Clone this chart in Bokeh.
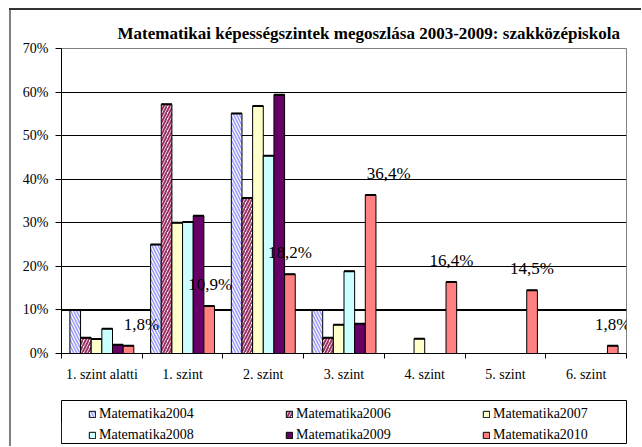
from bokeh.plotting import figure
from bokeh.models import Range1d, FixedTicker, LabelSet, Span, ColumnDataSource, Spacer
from bokeh.layouts import column, row
from bokeh.embed import file_html
from bokeh.resources import INLINE
from bokeh.core.properties import value

# ---------------- data ----------------
categories = ["1. szint alatti", "1. szint", "2. szint", "3. szint", "4. szint", "5. szint", "6. szint"]
series_names = ["Matematika2004", "Matematika2006", "Matematika2007",
                "Matematika2008", "Matematika2009", "Matematika2010"]
m2004 = [10.0, 25.0, 55.1, 10.0, 0.0, 0.0, 0.0]
m2006 = [3.6, 57.2, 35.7, 3.6, 0.0, 0.0, 0.0]
m2007 = [3.3, 30.0, 56.8, 6.6, 3.4, 0.0, 0.0]
m2008 = [5.7, 30.2, 45.4, 18.9, 0.0, 0.0, 0.0]
m2009 = [2.0, 31.6, 59.4, 6.8, 0.0, 0.0, 0.0]
m2010 = [1.8, 10.9, 18.2, 36.4, 16.4, 14.5, 1.8]
y_ticks = [0, 10, 20, 30, 40, 50, 60, 70]
y_tick_labels = ["0%", "10%", "20%", "30%", "40%", "50%", "60%", "70%"]
title_text = "Matematikai képességszintek megoszlása 2003-2009: szakközépiskola"

series_values = [m2004, m2006, m2007, m2008, m2009, m2010]

# ---------------- styles ----------------
FONT = "Liberation Serif"
styles = [
    dict(fill_color="white", hatch_pattern="\\", hatch_color="#9999FF", hatch_weight=1.5, hatch_scale=6),
    dict(fill_color="white", hatch_pattern="/", hatch_color="#993366", hatch_weight=2.0, hatch_scale=6),
    dict(fill_color="#FFFFCC"),
    dict(fill_color="#CCFFFF"),
    dict(fill_color="#660066"),
    dict(fill_color="#FF8080"),
]
label_dx = [13, 1, 0, 18, 0, 0, 0]   # manual nudges (px) of the 2010 data labels
bar_w = 0.132

p = figure(width=630, height=389, x_range=Range1d(0, len(categories)), y_range=Range1d(0, 70),
           output_backend="svg", toolbar_location=None,
           min_border_left=50, min_border_right=15, min_border_top=38, min_border_bottom=46)
p.background_fill_color = "white"
p.border_fill_color = "white"
p.outline_line_color = "#808080"
p.outline_line_width = 1

# title
p.title.text = title_text
p.title.align = "left"
p.title.offset = 56
p.title.standoff = 12
p.title.text_font = FONT
p.title.text_font_size = "17px"
p.title.text_font_style = "bold"
p.title.text_color = "black"

# grid
p.xgrid.visible = False
p.ygrid.ticker = FixedTicker(ticks=y_ticks[1:-1])
p.ygrid.grid_line_color = "black"
p.ygrid.grid_line_width = 1
ten = Span(location=y_ticks[1], dimension="width", line_color="black", line_width=2, level="underlay")
p.add_layout(ten)

# bars
n = len(series_values)
x2010 = []
for k, (vals, st) in enumerate(zip(series_values, styles)):
    xs = [i + 0.5 + (k - (n - 1) / 2) * bar_w for i in range(len(categories))]
    if k == n - 1:
        x2010 = xs
    keep = [i for i, v in enumerate(vals) if v > 0]
    bx = [xs[i] for i in keep]
    bt = [vals[i] for i in keep]
    src = ColumnDataSource(dict(x=bx, top=bt,
                                x0=[x - bar_w / 2 for x in bx], x1=[x + bar_w / 2 for x in bx]))
    p.vbar(x="x", top="top", bottom=0, width=bar_w, line_color="black", line_width=1, source=src, **st)
    p.segment(x0="x0", x1="x1", y0="top", y1="top", line_color="black", line_width=2, source=src)

# data labels of 2010
lbl_src = ColumnDataSource(dict(x=x2010, y=m2010,
                                text=[("%.1f" % v).replace(".", ",") + "%" for v in m2010],
                                dx=label_dx))
labels = LabelSet(x="x", y="y", text="text", source=lbl_src, x_offset="dx", y_offset=21.5,
                  text_align="center", text_baseline="middle",
                  text_font=value(FONT), text_font_size=value("17px"), text_color="black")
p.add_layout(labels)

# axes
p.yaxis.ticker = FixedTicker(ticks=y_ticks)
p.yaxis.major_label_overrides = {t: l for t, l in zip(y_ticks, y_tick_labels)}
p.yaxis.major_tick_out = 6
p.yaxis.major_tick_in = 0
p.yaxis.minor_tick_out = 0
p.yaxis.minor_tick_in = 0
p.yaxis.major_label_standoff = 7

p.xaxis.ticker = FixedTicker(ticks=[i + 0.5 for i in range(len(categories))],
                             minor_ticks=list(range(len(categories) + 1)))
p.xaxis.major_label_overrides = {i + 0.5: c for i, c in enumerate(categories)}
p.xaxis.major_tick_out = 0
p.xaxis.major_tick_in = 0
p.xaxis.minor_tick_out = 5
p.xaxis.minor_tick_in = 0
p.xaxis.major_label_standoff = 8

for ax in (p.xaxis, p.yaxis):
    ax.axis_line_color = "black"
    ax.major_tick_line_color = "black"
    ax.minor_tick_line_color = "black"
    ax.major_label_text_font = FONT
    ax.major_label_text_font_size = "14px"
    ax.major_label_text_color = "black"

# ---------------- legend figure ----------------
p2 = figure(width=630, height=45, x_range=Range1d(0, 1), y_range=Range1d(0, 1),
            output_backend="svg", toolbar_location=None,
            x_axis_location=None, y_axis_location=None,
            min_border_left=33, min_border_right=5, min_border_top=1, min_border_bottom=1)
p2.grid.visible = False
p2.outline_line_color = "black"
p2.outline_line_width = 1
p2.background_fill_color = "white"
p2.border_fill_color = "white"
for name, st in zip(series_names, styles):
    # placeholder glyphs kept outside the visible range; they only feed the legend
    p2.vbar(x=[-5], top=[0.5], width=0.1, line_color="black", line_width=1, legend_label=name, **st)
leg = p2.legend[0]
leg.location = (27, -2)
leg.orientation = "horizontal"
leg.ncols = 3
leg.glyph_width = 8
leg.glyph_height = 8
leg.label_standoff = 3
leg.label_width = 186
leg.label_height = 21
leg.spacing = 0
leg.padding = 0
leg.margin = 0
leg.border_line_color = None
leg.background_fill_alpha = 0
leg.label_text_font = FONT
leg.label_text_font_size = "14px"
leg.label_text_color = "black"

top_pad = Spacer(width=641, height=8)
top_line = Spacer(width=632, height=2, styles={"background-color": "#333333"})
left_pad = Spacer(width=9, height=436)
left_line = Spacer(width=2, height=436, styles={"background-color": "#808080"})
layout = column(top_pad,
                row(Spacer(width=9, height=2), top_line),
                row(left_pad, left_line, column(p, p2)))

open("out.html", "w").write(file_html(layout, INLINE))
